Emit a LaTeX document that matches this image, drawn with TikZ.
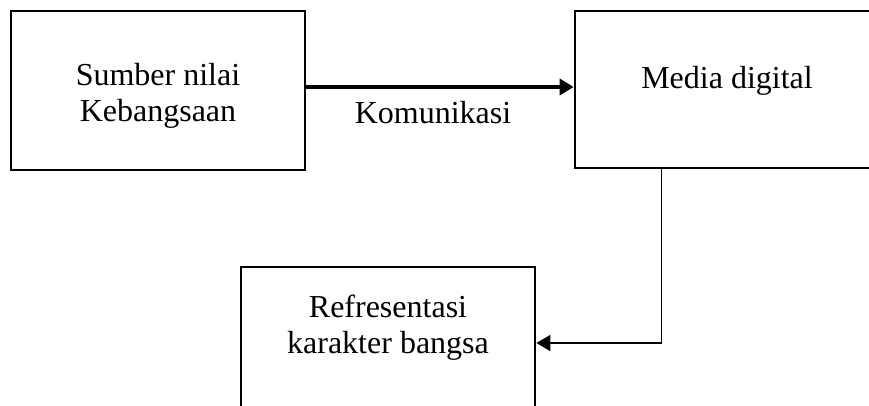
\documentclass[tikz,border=0pt]{standalone}
\usepackage{fontspec}
\setmainfont{Liberation Serif}
\usetikzlibrary{arrows.meta}

\begin{document}
\begin{tikzpicture}[x=1pt, y=-1pt,
    box/.style = {draw, line width=2.7pt, inner sep=0pt},
    lbl/.style = {align=center, font=\fontsize{32}{36}\selectfont},
    tip/.style = {-{Triangle[length=14pt, width=16pt]}}]

    \useasboundingbox (0,0) rectangle (869,405);
    \clip (0,0) rectangle (869,405);

    % the three boxes
    \node [box, minimum width=294pt, minimum height=159pt] (sumber) at (158,90.5) {};
    \node [box, minimum width=310pt, minimum height=157pt] (media) at (730,89.5) {};
    \node [box, minimum width=294pt, minimum height=159pt] (karakter) at (388,346.5) {};

    \node [lbl] (sumberText) at (158,96) {Sumber nilai\\Kebangsaan};
    \node [lbl, anchor=base] (mediaText) at (727,88) {Media digital};
    \node [lbl] (karakterText) at (388,328) {Refresentasi\\karakter bangsa};

    % connectors
    \draw [tip, line width=4pt] ([yshift=3.5pt]sumber.east) -- ([yshift=3.5pt]sumber.east -| media.west)
        node [lbl, midway, anchor=base, xshift=-7pt, yshift=-36pt] (komunikasi) {Komunikasi};
    \draw [tip, line width=1.5pt] ([xshift=88pt]media.south west) |- ([yshift=3.5pt]karakter.east);

\end{tikzpicture}
\end{document}
